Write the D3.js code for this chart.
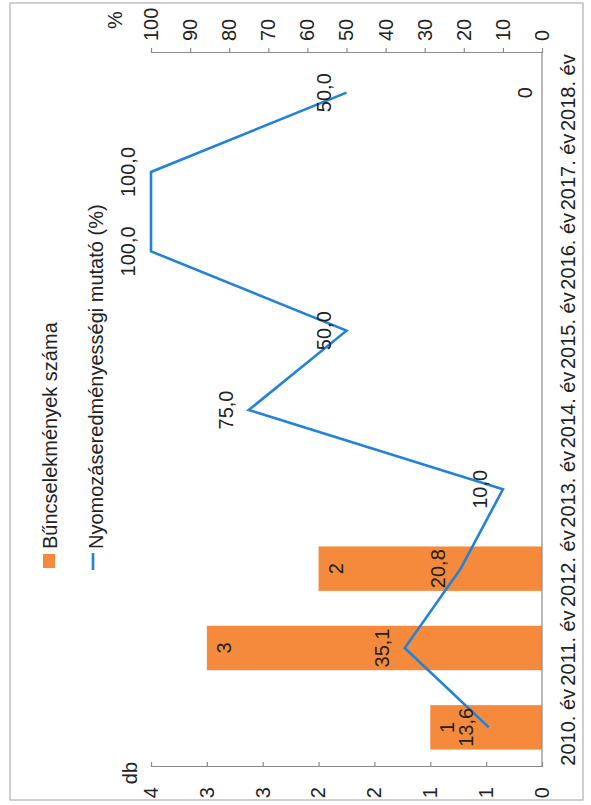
<!DOCTYPE html>
<html><head><meta charset="utf-8">
<script src="https://cdnjs.cloudflare.com/ajax/libs/d3/7.8.5/d3.min.js"></script>
<style>
html,body{margin:0;padding:0;background:#fff;}
svg text{font-family:"Liberation Sans Narrow","Arial Narrow",sans-serif;fill:#222;}
</style></head>
<body><svg id="c" width="591" height="805"></svg>
<script>
const years = ["2010. év","2011. év","2012. év","2013. év","2014. év","2015. év","2016. év","2017. év","2018. év"];
const crimes = [1,3,2,null,null,null,null,null,0];
const rate = [13.6,35.1,20.8,10.0,75.0,50.0,100.0,100.0,50.0];
const rateLabels = ["13,6","35,1","20,8","10,0","75,0","50,0","100,0","100,0","50,0"];
const dbTicks = [0,0.5,1,1.5,2,2.5,3,3.5];
const dbTickLabels = ["0","1","1","2","2","3","3","4"];
const pctTicks = [0,10,20,30,40,50,60,70,80,90,100];
const legendNames = ["Bűncselekmények száma","Nyomozáseredményességi mutató (%)"];

const svg = d3.select("#c");
const g = svg.append("g").attr("transform","translate(0,805) rotate(-90)");

// outer frame
g.append("rect").attr("x",5).attr("y",10).attr("width",797).attr("height",573)
 .attr("fill","none").attr("stroke","#b0b0b0").attr("stroke-width",1.2);

const x = d3.scaleBand().domain(years).range([38,752]).paddingInner(0.44).paddingOuter(0.22);
const yL = d3.scaleLinear().domain([0,3.5]).range([542,151]);
const yR = d3.scaleLinear().domain([0,100]).range([542,151]);
const fs = 20;

// bars
g.selectAll("rect.bar").data(years.map((c,i)=>({c,v:crimes[i]})).filter(d=>d.v!==null))
 .enter().append("rect").attr("class","bar")
 .attr("x",d=>x(d.c)).attr("width",x.bandwidth())
 .attr("y",d=>yL(d.v)).attr("height",d=>yL(0)-yL(d.v))
 .attr("fill","#F68A3C");

// axes
const axL = g.append("g").attr("transform","translate(38,0)")
 .call(d3.axisLeft(yL).tickValues(dbTicks).tickFormat((d,i)=>dbTickLabels[i]).tickSizeInner(-5).tickSizeOuter(0).tickPadding(20));
const axR = g.append("g").attr("transform","translate(752,0)")
 .call(d3.axisRight(yR).tickValues(pctTicks).tickSizeInner(5).tickSizeOuter(0).tickPadding(7));
const axB = g.append("g").attr("transform","translate(0,542)")
 .call(d3.axisBottom(x).tickSize(0).tickPadding(19));
[axL,axR,axB].forEach(a=>{
  a.selectAll("path,line").attr("stroke","#8a8a8a").attr("stroke-width",1.2);
  a.selectAll("text").attr("font-size",fs).attr("fill","#222")
   .style("font-family",'"Liberation Sans Narrow","Arial Narrow",sans-serif');
});
axB.select("path.domain").attr("d","M38,0H752");

// titles
g.append("text").attr("x",32).attr("y",137).attr("text-anchor","middle").attr("font-size",fs).text("db");
g.append("text").attr("x",785).attr("y",122).attr("text-anchor","middle").attr("font-size",fs).text("%");

// line
const pts = years.map((c,i)=>({c,v:rate[i],l:rateLabels[i]}));
const line = d3.line().x(d=>x(d.c)+x.bandwidth()/2).y(d=>yR(d.v));
g.append("path").datum(pts).attr("d",line).attr("fill","none")
 .attr("stroke","#2182DA").attr("stroke-width",2.6).attr("stroke-linejoin","miter");

// line labels (above)
g.selectAll("text.ll").data(pts).enter().append("text").attr("class","ll")
 .attr("x",d=>x(d.c)+x.bandwidth()/2).attr("y",d=>yR(d.v)-23)
 .attr("dy","0.35em").attr("text-anchor","middle").attr("font-size",fs).text(d=>d.l);

// bar labels (inside end)
g.selectAll("text.bl").data(years.map((c,i)=>({c,v:crimes[i]})).filter(d=>d.v!==null))
 .enter().append("text").attr("class","bl")
 .attr("x",d=>x(d.c)+x.bandwidth()/2)
 .attr("y",d=>Math.min(yL(d.v)+17,yL(0)-17))
 .attr("dy","0.35em").attr("text-anchor","middle").attr("font-size",fs).text(d=>d.v);

// legend
const lg = g.append("g");
lg.append("rect").attr("x",237).attr("y",43).attr("width",14).attr("height",12).attr("fill","#F68A3C");
lg.append("text").attr("x",256).attr("y",57).attr("font-size",fs).text(legendNames[0]);
lg.append("line").attr("x1",235).attr("x2",252).attr("y1",93).attr("y2",93).attr("stroke","#2182DA").attr("stroke-width",2.6);
lg.append("text").attr("x",256).attr("y",103).attr("font-size",fs).text(legendNames[1]);
</script></body></html>
